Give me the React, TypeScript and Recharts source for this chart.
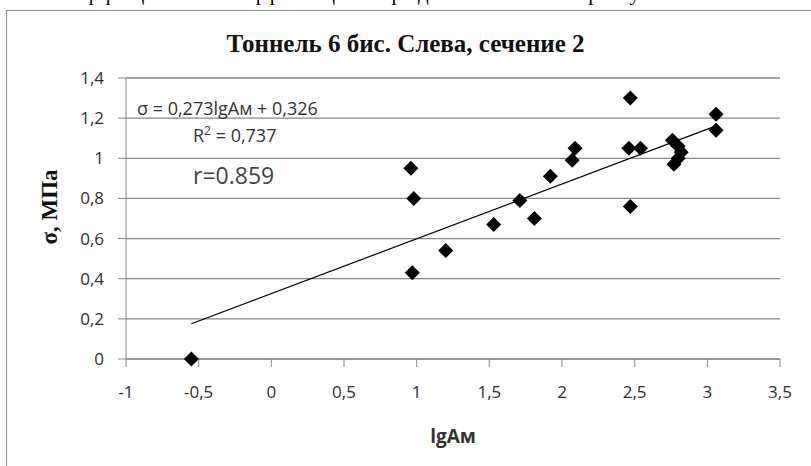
import React from 'react';
import { ScatterChart, Scatter, XAxis, YAxis, CartesianGrid, ReferenceLine } from 'recharts';

// lgAм values and σ (MPa)
const lgAm = [-0.55, 0.96, 0.98, 0.97, 1.2, 1.53, 1.71, 1.81, 1.92, 2.07, 2.09, 2.47, 2.46, 2.54, 2.47, 2.76, 2.8, 2.82, 2.8, 2.77, 3.06, 3.06];
const sigma = [0.0, 0.95, 0.8, 0.43, 0.54, 0.67, 0.79, 0.7, 0.91, 0.99, 1.05, 1.3, 1.05, 1.05, 0.76, 1.09, 1.06, 1.03, 1.0, 0.97, 1.22, 1.14];

const xTicks = [-1, -0.5, 0, 0.5, 1, 1.5, 2, 2.5, 3, 3.5];
const yTicks = [0, 0.2, 0.4, 0.6, 0.8, 1, 1.2, 1.4];

// linear trend from the chart's own equation
const slope = 0.273;
const intercept = 0.326;

const points = lgAm.map((x, i) => ({ x, y: sigma[i] }));
const xMin = Math.min(...lgAm);
const xMax = Math.max(...lgAm);
const trend = [xMin, xMax].map((x) => ({ x, y: slope * x + intercept }));

const fmt = (v: number) => String(v).replace('.', ',');

const Diamond = (props: any) => {
  const { cx, cy } = props;
  const r = 7.5;
  return <polygon points={`${cx},${cy - r} ${cx + r},${cy} ${cx},${cy + r} ${cx - r},${cy}`} fill="#000" />;
};

const sans = '"Open Sans", sans-serif';
const serif = '"Liberation Serif", serif';
const tickStyle = { fontFamily: sans, fontSize: 17, fill: '#2e2e2e' };
const gray = '#878787';

const App: React.FC = () => {
  return (
    <div style={{ position: 'absolute', left: 0, top: 0, width: 811, height: 466, background: '#fff', overflow: 'hidden' }}>
      {/* bottom edge of the sentence above the figure */}
      <div style={{ position: 'absolute', left: 45, top: -19, fontFamily: serif, fontSize: 21, letterSpacing: 3.5, whiteSpace: 'nowrap', color: '#000' }}>
        коэффициенты корреляции представлены на рисунке.
      </div>
      <div style={{ position: 'absolute', left: 6, top: 10, width: 830, height: 480, border: '1px solid #8a8a8a' }} />
      <div style={{ position: 'absolute', left: 0, width: 811, top: 30, textAlign: 'center', fontFamily: serif, fontWeight: 'bold', fontSize: 25, color: '#111', whiteSpace: 'nowrap' }}>
        Тоннель 6 бис. Слева, сечение 2
      </div>
      <ScatterChart width={811} height={466} margin={{ top: 78, right: 31, bottom: 67, left: 66 }} style={{ position: 'absolute', left: 0, top: 0 }}>
        <CartesianGrid vertical={false} stroke={gray} strokeWidth={1.3} />
        <XAxis
          type="number"
          dataKey="x"
          domain={[-1, 3.5]}
          ticks={xTicks}
          tickFormatter={fmt}
          height={40}
          tickSize={8}
          tickMargin={19}
          stroke={gray}
          tick={tickStyle}
          interval={0}
        />
        <YAxis
          type="number"
          dataKey="y"
          domain={[0, 1.4]}
          ticks={yTicks}
          tickFormatter={fmt}
          width={60}
          tickSize={8}
          tickMargin={14}
          stroke={gray}
          tick={tickStyle}
          interval={0}
        />
        <ReferenceLine segment={trend} stroke="#000" strokeWidth={1.2} ifOverflow="visible" />
        <Scatter data={points} shape={Diamond} isAnimationActive={false} />
      </ScatterChart>
      <div style={{ position: 'absolute', left: 137, top: 96, fontFamily: sans, fontSize: 18, lineHeight: '24px', color: '#333', whiteSpace: 'nowrap' }}>
        σ = 0,273lgAм + 0,326
      </div>
      <div style={{ position: 'absolute', left: 193, top: 123, fontFamily: sans, fontSize: 18, lineHeight: '24px', color: '#333', whiteSpace: 'nowrap' }}>
        R<span style={{ fontSize: 12, position: 'relative', top: -7 }}>2</span> = 0,737
      </div>
      <div style={{ position: 'absolute', left: 193, top: 160, fontFamily: sans, fontSize: 23, lineHeight: '31px', color: '#444', whiteSpace: 'nowrap' }}>
        r=0.859
      </div>
      <div style={{ position: 'absolute', left: 50, top: 207, transform: 'translate(-50%, -50%) rotate(-90deg)', fontFamily: serif, fontWeight: 'bold', fontSize: 23, color: '#111', whiteSpace: 'nowrap' }}>
        σ, МПа
      </div>
      <div style={{ position: 'absolute', left: 0, width: 906, top: 423, textAlign: 'center', fontFamily: sans, fontWeight: 'bold', fontSize: 19, color: '#333' }}>
        lgAм
      </div>
    </div>
  );
};

export default App;
